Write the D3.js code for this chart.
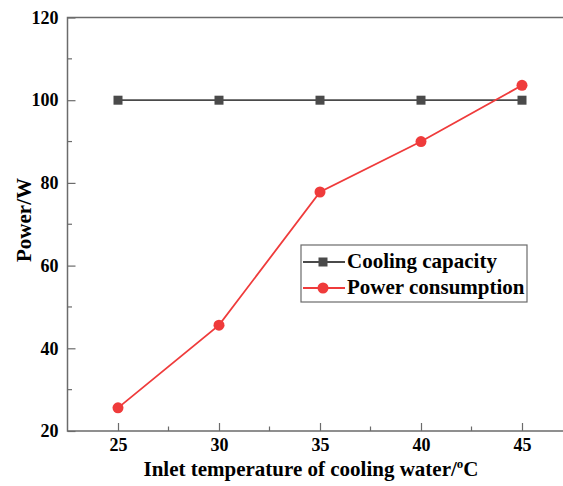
<!DOCTYPE html>
<html>
<head>
<meta charset="utf-8">
<script src="https://cdn.jsdelivr.net/npm/d3@7"></script>
<style>
  html, body { margin: 0; padding: 0; background: #fff; }
  svg { display: block; }
  text { font-family: "Liberation Serif", "Times New Roman", serif; font-weight: bold; fill: #000; }
</style>
</head>
<body>
<svg id="chart" width="563" height="486"></svg>
<script>
// Inlet water temperature (°C) and measured powers (W)
const temperatures = [25, 30, 35, 40, 45];
const coolingCapacity = [100, 100, 100, 100, 100];
const powerConsumption = [25.6, 45.6, 77.8, 90.0, 103.6];
const xTicks = [25, 30, 35, 40, 45];
const yTicks = [20, 40, 60, 80, 100, 120];
const seriesNames = ["Cooling capacity", "Power consumption"];

const svg = d3.select("#chart");
const margin = { left: 68, top: 17.5, bottom: 431 };

const x = d3.scaleLinear().domain([22.5, 47.5]).range([67.5, 572.5]);
const y = d3.scaleLinear().domain([20, 120]).range([margin.bottom, margin.top]);

const axisColor = "#6b6b6b";
const grey = "#4a4a4a";
const red = "#ef3b3b";

// frame (right edge falls outside the view)
svg.append("path")
  .attr("d", `M${x(47.5)},${y(120)}H${x(22.5)}V${y(20)}H${x(47.5)}`)
  .attr("fill", "none").attr("stroke", axisColor).attr("stroke-width", 1.5);

// x axis: inward ticks, major and minor
const xAxis = d3.axisBottom(x).tickValues(xTicks).tickSize(-8).tickPadding(7).tickFormat(d3.format("d"));
const gx = svg.append("g").attr("transform", `translate(0,${y(20)})`).call(xAxis);
gx.select(".domain").remove();
gx.selectAll("line").attr("stroke", axisColor).attr("stroke-width", 1.2);
gx.selectAll("text").attr("font-size", 18).attr("fill", "#000")
  .style("font-family", "'Liberation Serif', serif").style("font-weight", "bold");
const xMinor = d3.range(27.5, 47.5, 5);
svg.append("g").selectAll("line").data(xMinor).join("line")
  .attr("x1", d => x(d)).attr("x2", d => x(d))
  .attr("y1", y(20)).attr("y2", y(20) - 4.5)
  .attr("stroke", axisColor).attr("stroke-width", 1.2);

// y axis
const yAxis = d3.axisLeft(y).tickValues(yTicks).tickSize(-8).tickPadding(9).tickFormat(d3.format("d"));
const gy = svg.append("g").attr("transform", `translate(${x(22.5)},0)`).call(yAxis);
gy.select(".domain").remove();
gy.selectAll("line").attr("stroke", axisColor).attr("stroke-width", 1.2);
gy.selectAll("text").attr("font-size", 18).attr("fill", "#000")
  .style("font-family", "'Liberation Serif', serif").style("font-weight", "bold");
const yMinor = d3.range(30, 120, 20);
svg.append("g").selectAll("line").data(yMinor).join("line")
  .attr("x1", x(22.5)).attr("x2", x(22.5) + 4.5)
  .attr("y1", d => y(d)).attr("y2", d => y(d))
  .attr("stroke", axisColor).attr("stroke-width", 1.2);

// axis titles
const xt = svg.append("text")
  .attr("x", 311).attr("y", 476)
  .attr("text-anchor", "middle").attr("font-size", 21);
xt.append("tspan").text("Inlet temperature of cooling water/");
xt.append("tspan").attr("font-size", 13).attr("dy", -8).text("o");
xt.append("tspan").attr("dy", 8).text("C");

svg.append("text")
  .attr("transform", `translate(31,220) rotate(-90)`)
  .attr("text-anchor", "middle").attr("font-size", 21)
  .text("Power/W");

// series
const line = d3.line().x(d => x(d[0])).y(d => y(d[1]));
const capPts = temperatures.map((t, i) => [t, coolingCapacity[i]]);
const powPts = temperatures.map((t, i) => [t, powerConsumption[i]]);

svg.append("path").attr("d", line(capPts))
  .attr("fill", "none").attr("stroke", grey).attr("stroke-width", 1.8);
svg.append("g").selectAll("rect").data(capPts).join("rect")
  .attr("x", d => x(d[0]) - 4.5).attr("y", d => y(d[1]) - 4.5)
  .attr("width", 9).attr("height", 9).attr("fill", grey);

svg.append("path").attr("d", line(powPts))
  .attr("fill", "none").attr("stroke", red).attr("stroke-width", 1.8);
svg.append("g").selectAll("circle").data(powPts).join("circle")
  .attr("cx", d => x(d[0])).attr("cy", d => y(d[1])).attr("r", 5.5)
  .attr("fill", red);

// legend
const lg = svg.append("g").attr("transform", "translate(301,245)");
lg.append("rect").attr("width", 226).attr("height", 57)
  .attr("fill", "#fff").attr("stroke", axisColor).attr("stroke-width", 1.2);
const rows = [
  { name: seriesNames[0], color: grey, shape: "square", yy: 17 },
  { name: seriesNames[1], color: red, shape: "circle", yy: 43 }
];
rows.forEach(r => {
  lg.append("line").attr("x1", 2).attr("x2", 44).attr("y1", r.yy).attr("y2", r.yy)
    .attr("stroke", r.color).attr("stroke-width", 1.8);
  if (r.shape === "square") {
    lg.append("rect").attr("x", 22 - 4.5).attr("y", r.yy - 4.5).attr("width", 9).attr("height", 9).attr("fill", r.color);
  } else {
    lg.append("circle").attr("cx", 22).attr("cy", r.yy).attr("r", 5.5).attr("fill", r.color);
  }
  lg.append("text").attr("x", 46).attr("y", r.yy + 6).attr("font-size", 21).text(r.name);
});
</script>
</body>
</html>
